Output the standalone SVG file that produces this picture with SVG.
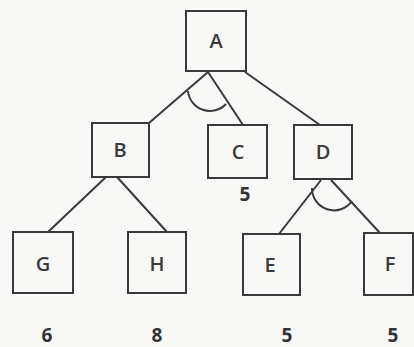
<svg xmlns="http://www.w3.org/2000/svg" width="414" height="347" viewBox="0 0 414 347">
<style>
.box{fill:none;stroke:#3a3a3a;stroke-width:2}
.ln{fill:none;stroke:#3a3a3a;stroke-width:2}
.lbl{font-family:"Open Sans","Liberation Sans",sans-serif;font-size:20px;fill:#3a3a3a;text-anchor:middle;font-weight:600}
.num{font-family:"Open Sans","Liberation Sans",sans-serif;font-size:19px;fill:#333;text-anchor:middle;font-weight:700}
</style>
<rect width="414" height="347" fill="#f8f8f6"/>
<g id="connectors">
<path class="ln" d="M208 72 L149 123"/>
<path class="ln" d="M208 72 L243 125"/>
<path class="ln" d="M245 72 L320 125"/>
<path class="ln" d="M188 91 A22 22 0 0 0 226 104"/>
<path class="ln" d="M106 177 L48 232"/>
<path class="ln" d="M117 177 L167 232"/>
<path class="ln" d="M321 180 L279 234"/>
<path class="ln" d="M331 180 L380 233"/>
<path class="ln" d="M312 188 A22 22 0 0 0 352 201"/>
</g>
<g id="A"><rect class="box" x="186" y="11" width="60" height="60"/><text class="lbl" x="216" y="48">A</text></g>
<g id="B"><rect class="box" x="92" y="123" width="57" height="54"/><text class="lbl" x="120" y="157">B</text></g>
<g id="C"><rect class="box" x="208" y="125" width="59" height="53"/><text class="lbl" x="238" y="159">C</text><text class="num" x="245" y="201">5</text></g>
<g id="D"><rect class="box" x="294" y="125" width="58" height="54"/><text class="lbl" x="323" y="159">D</text></g>
<g id="G"><rect class="box" x="13" y="232" width="60" height="61"/><text class="lbl" x="43" y="271">G</text><text class="num" x="47" y="342">6</text></g>
<g id="H"><rect class="box" x="128" y="232" width="58" height="61"/><text class="lbl" x="157" y="271">H</text><text class="num" x="157" y="342">8</text></g>
<g id="E"><rect class="box" x="243" y="234" width="57" height="61"/><text class="lbl" x="270" y="272">E</text><text class="num" x="287" y="342">5</text></g>
<g id="F"><rect class="box" x="364" y="233" width="49" height="62"/><text class="lbl" x="390" y="271">F</text><text class="num" x="393" y="342">5</text></g>
</svg>
